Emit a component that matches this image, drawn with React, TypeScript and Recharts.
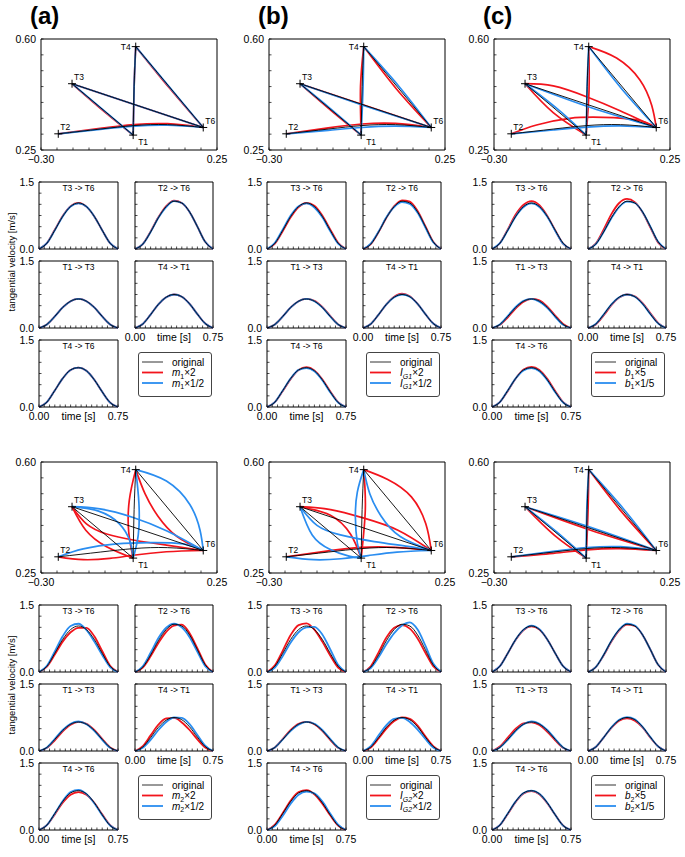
import { ComposedChart, LineChart, Line, Scatter, XAxis, YAxis, ReferenceArea } from "recharts";

type Pt = [number, number];

const FONT = '"Liberation Sans", Arial, Helvetica, sans-serif';
const RED = "#f2141c";
const BLUE = "#2a8df0";
const BLACK = "#000";

// ---- target positions (m) ----
const TARGET_NAMES = ["T1", "T2", "T3", "T4", "T6"];
const TARGET_X = [-0.012, -0.246, -0.203, -0.004, 0.207];
const TARGET_Y = [0.297, 0.301, 0.459, 0.576, 0.321];

// ---- axis ticks ----
const TRAJ_X_TICKS = [-0.3, -0.25, -0.2, -0.15, -0.1, -0.05, 0, 0.05, 0.1, 0.15, 0.2, 0.25];
const TRAJ_Y_TICKS = [0.25, 0.3, 0.35, 0.4, 0.45, 0.5, 0.55, 0.6];
const VEL_X_TICKS = [0, 0.05, 0.1, 0.15, 0.2, 0.25, 0.3, 0.35, 0.4, 0.45, 0.5, 0.55, 0.6, 0.65, 0.7, 0.75];
const VEL_Y_TICKS = [0, 0.25, 0.5, 0.75, 1, 1.25, 1.5];

// ---- hand paths, order: T3->T6, T2->T6, T1->T3, T4->T1, T4->T6 ----
const ORIG_T3T6: Pt[] = [[-0.203, 0.459], [0.207, 0.321]];
const ORIG_T2T6: Pt[] = [[-0.246, 0.301], [-0.115, 0.316], [-0.01, 0.327], [0.095, 0.33], [0.207, 0.321]];
const ORIG_T1T3: Pt[] = [[-0.012, 0.297], [-0.203, 0.459]];
const ORIG_T4T1: Pt[] = [[-0.004, 0.576], [-0.009, 0.45], [-0.012, 0.297]];
const ORIG_T4T6: Pt[] = [[-0.004, 0.576], [0.207, 0.321]];
const PATHS_ORIG = [ORIG_T3T6, ORIG_T2T6, ORIG_T1T3, ORIG_T4T1, ORIG_T4T6];

const PATHS_A_RED: Pt[][] = [
  ORIG_T3T6,
  [[-0.246, 0.301], [-0.115, 0.318], [-0.01, 0.33], [0.095, 0.333], [0.207, 0.321]],
  [[-0.012, 0.297], [-0.108, 0.376], [-0.203, 0.459]],
  ORIG_T4T1,
  [[-0.004, 0.576], [0.1, 0.447], [0.207, 0.321]],
];
const PATHS_A_BLUE: Pt[][] = [
  ORIG_T3T6,
  [[-0.246, 0.301], [-0.115, 0.315], [-0.01, 0.325], [0.095, 0.328], [0.207, 0.321]],
  ORIG_T1T3,
  ORIG_T4T1,
  ORIG_T4T6,
];

const PATHS_B_RED: Pt[][] = [
  ORIG_T3T6,
  [[-0.246, 0.301], [-0.115, 0.32], [-0.01, 0.332], [0.095, 0.334], [0.207, 0.321]],
  [[-0.012, 0.297], [-0.104, 0.373], [-0.203, 0.459]],
  [[-0.004, 0.576], [-0.014, 0.45], [-0.012, 0.297]],
  [[-0.004, 0.576], [0.097, 0.444], [0.207, 0.321]],
];
const PATHS_B_BLUE: Pt[][] = [
  [[-0.203, 0.459], [0.002, 0.388], [0.207, 0.321]],
  [[-0.246, 0.301], [-0.115, 0.312], [-0.01, 0.321], [0.095, 0.325], [0.207, 0.321]],
  [[-0.012, 0.297], [-0.11, 0.382], [-0.203, 0.459]],
  [[-0.004, 0.576], [-0.006, 0.45], [-0.012, 0.297]],
  [[-0.004, 0.576], [0.105, 0.452], [0.207, 0.321]],
];

const PATHS_C_RED: Pt[][] = [
  [[-0.203, 0.459], [-0.115, 0.452], [-0.011, 0.418], [0.094, 0.374], [0.207, 0.321]],
  [[-0.246, 0.301], [-0.167, 0.329], [-0.063, 0.35], [0.041, 0.353], [0.146, 0.345], [0.207, 0.321]],
  [[-0.012, 0.297], [-0.115, 0.368], [-0.203, 0.459]],
  [[-0.004, 0.576], [-0.003, 0.44], [-0.012, 0.297]],
  [[-0.004, 0.576], [0.083, 0.54], [0.156, 0.471], [0.193, 0.39], [0.207, 0.321]],
];
const PATHS_C_BLUE: Pt[][] = [
  [[-0.203, 0.459], [0.002, 0.384], [0.207, 0.321]],
  [[-0.246, 0.301], [-0.115, 0.313], [-0.01, 0.322], [0.095, 0.326], [0.207, 0.321]],
  [[-0.012, 0.297], [-0.1, 0.378], [-0.203, 0.459]],
  ORIG_T4T1,
  [[-0.004, 0.576], [0.098, 0.444], [0.207, 0.321]],
];

const PATHS_D_RED: Pt[][] = [
  [[-0.203, 0.459], [-0.158, 0.405], [-0.095, 0.373], [-0.012, 0.354], [0.092, 0.338], [0.207, 0.321]],
  [[-0.246, 0.301], [-0.168, 0.292], [-0.085, 0.296], [-0.012, 0.306], [0.092, 0.317], [0.207, 0.321]],
  [[-0.203, 0.459], [-0.16, 0.385], [-0.095, 0.333], [-0.012, 0.297]],
  [[-0.004, 0.576], [-0.024, 0.48], [-0.026, 0.38], [-0.012, 0.297]],
  [[-0.004, 0.576], [0.025, 0.5], [0.065, 0.43], [0.125, 0.365], [0.207, 0.321]],
];
const PATHS_D_BLUE: Pt[][] = [
  [[-0.203, 0.459], [-0.116, 0.452], [-0.012, 0.425], [0.092, 0.383], [0.207, 0.321]],
  [[-0.246, 0.301], [-0.168, 0.326], [-0.064, 0.342], [0.04, 0.346], [0.144, 0.342], [0.207, 0.321]],
  [[-0.203, 0.459], [-0.12, 0.445], [-0.055, 0.405], [-0.022, 0.35], [-0.012, 0.297]],
  [[-0.004, 0.576], [0.006, 0.47], [0.004, 0.37], [-0.012, 0.297]],
  [[-0.004, 0.576], [0.092, 0.54], [0.165, 0.466], [0.197, 0.385], [0.207, 0.321]],
];

const PATHS_E_RED: Pt[][] = [
  [[-0.203, 0.459], [-0.108, 0.45], [-0.003, 0.423], [0.103, 0.385], [0.207, 0.321]],
  [[-0.246, 0.301], [-0.115, 0.32], [-0.01, 0.331], [0.095, 0.331], [0.207, 0.321]],
  [[-0.203, 0.459], [-0.108, 0.432], [-0.045, 0.372], [-0.012, 0.297]],
  [[-0.004, 0.576], [0.001, 0.45], [-0.012, 0.297]],
  [[-0.004, 0.576], [0.071, 0.545], [0.145, 0.49], [0.19, 0.405], [0.207, 0.321]],
];
const PATHS_E_BLUE: Pt[][] = [
  [[-0.203, 0.459], [-0.15, 0.4], [-0.077, 0.37], [0.029, 0.349], [0.134, 0.334], [0.207, 0.321]],
  [[-0.246, 0.301], [-0.16, 0.292], [-0.075, 0.295], [0.01, 0.305], [0.1, 0.316], [0.207, 0.321]],
  [[-0.203, 0.459], [-0.165, 0.37], [-0.11, 0.325], [-0.05, 0.303], [-0.012, 0.297]],
  [[-0.004, 0.576], [-0.024, 0.505], [-0.03, 0.425], [-0.024, 0.345], [-0.012, 0.297]],
  [[-0.004, 0.576], [0.015, 0.5], [0.05, 0.43], [0.11, 0.365], [0.207, 0.321]],
];

const PATHS_F_RED: Pt[][] = [
  [[-0.203, 0.459], [0.002, 0.385], [0.207, 0.321]],
  [[-0.246, 0.301], [-0.115, 0.312], [-0.01, 0.323], [0.095, 0.327], [0.207, 0.321]],
  [[-0.203, 0.459], [-0.11, 0.368], [-0.012, 0.297]],
  [[-0.004, 0.576], [-0.006, 0.45], [-0.012, 0.297]],
  [[-0.004, 0.576], [0.097, 0.445], [0.207, 0.321]],
];
const PATHS_F_BLUE: Pt[][] = [
  [[-0.203, 0.459], [0.002, 0.394], [0.207, 0.321]],
  [[-0.246, 0.301], [-0.115, 0.318], [-0.01, 0.33], [0.095, 0.333], [0.207, 0.321]],
  [[-0.203, 0.459], [-0.105, 0.38], [-0.012, 0.297]],
  [[-0.004, 0.576], [-0.01, 0.45], [-0.012, 0.297]],
  [[-0.004, 0.576], [0.105, 0.452], [0.207, 0.321]],
];

// ---- tangential velocity (m/s), sampled every 0.075 s ----
const TIME = [0, 0.075, 0.15, 0.225, 0.3, 0.375, 0.45, 0.525, 0.6, 0.675, 0.75];

const O_T3T6 = [0, 0.13, 0.42, 0.73, 0.95, 1.03, 0.95, 0.73, 0.42, 0.13, 0];
const O_T2T6 = [0, 0.11, 0.38, 0.7, 0.95, 1.07, 1.03, 0.83, 0.5, 0.16, 0];
const O_T1T3 = [0, 0.08, 0.26, 0.46, 0.6, 0.65, 0.6, 0.46, 0.26, 0.08, 0];
const O_T4T1 = [0, 0.09, 0.3, 0.53, 0.69, 0.75, 0.7, 0.54, 0.31, 0.1, 0];
const O_T4T6 = [0, 0.11, 0.37, 0.64, 0.83, 0.88, 0.81, 0.61, 0.34, 0.1, 0];
const VEL_ORIG = [O_T3T6, O_T2T6, O_T1T3, O_T4T1, O_T4T6];

const VEL_A_RED = [
  [0, 0.13, 0.43, 0.74, 0.96, 1.03, 0.95, 0.73, 0.42, 0.13, 0],
  [0, 0.11, 0.39, 0.71, 0.96, 1.08, 1.03, 0.83, 0.5, 0.16, 0],
  O_T1T3,
  O_T4T1,
  O_T4T6,
];
const VEL_A_BLUE = [
  [0, 0.13, 0.42, 0.73, 0.95, 1.02, 0.95, 0.73, 0.42, 0.13, 0],
  [0, 0.11, 0.38, 0.7, 0.94, 1.07, 1.03, 0.83, 0.5, 0.16, 0],
  O_T1T3,
  O_T4T1,
  O_T4T6,
];

const VEL_B_RED = [
  [0, 0.12, 0.4, 0.71, 0.94, 1.03, 0.97, 0.75, 0.44, 0.14, 0],
  [0, 0.11, 0.38, 0.7, 0.96, 1.09, 1.06, 0.85, 0.51, 0.16, 0],
  [0, 0.08, 0.26, 0.46, 0.6, 0.65, 0.61, 0.47, 0.27, 0.08, 0],
  [0, 0.09, 0.3, 0.53, 0.7, 0.77, 0.71, 0.54, 0.31, 0.1, 0],
  [0, 0.11, 0.36, 0.63, 0.83, 0.89, 0.82, 0.62, 0.35, 0.11, 0],
];
const VEL_B_BLUE = [
  [0, 0.14, 0.44, 0.75, 0.96, 1.02, 0.93, 0.71, 0.4, 0.12, 0],
  [0, 0.12, 0.39, 0.71, 0.94, 1.05, 1.01, 0.81, 0.48, 0.15, 0],
  O_T1T3,
  O_T4T1,
  [0, 0.11, 0.37, 0.64, 0.83, 0.87, 0.8, 0.6, 0.33, 0.1, 0],
];

const VEL_C_RED = [
  [0, 0.13, 0.44, 0.77, 0.99, 1.07, 0.98, 0.74, 0.42, 0.12, 0],
  [0, 0.12, 0.43, 0.78, 1.03, 1.12, 1.05, 0.82, 0.48, 0.14, 0],
  [0, 0.07, 0.24, 0.44, 0.59, 0.65, 0.62, 0.48, 0.28, 0.09, 0],
  [0, 0.08, 0.28, 0.51, 0.68, 0.75, 0.71, 0.56, 0.33, 0.11, 0],
  [0, 0.11, 0.36, 0.64, 0.84, 0.9, 0.83, 0.63, 0.36, 0.11, 0],
];
const VEL_C_BLUE = [
  [0, 0.13, 0.42, 0.73, 0.94, 1.02, 0.94, 0.72, 0.41, 0.12, 0],
  [0, 0.11, 0.38, 0.69, 0.94, 1.06, 1.03, 0.83, 0.5, 0.16, 0],
  [0, 0.08, 0.27, 0.47, 0.61, 0.65, 0.59, 0.45, 0.25, 0.07, 0],
  O_T4T1,
  [0, 0.11, 0.37, 0.64, 0.82, 0.87, 0.8, 0.6, 0.33, 0.1, 0],
];

const VEL_D_RED = [
  [0, 0.12, 0.39, 0.68, 0.89, 0.99, 0.99, 0.8, 0.47, 0.14, 0],
  [0, 0.1, 0.35, 0.65, 0.9, 1.04, 1.06, 0.87, 0.53, 0.17, 0],
  [0, 0.07, 0.24, 0.44, 0.59, 0.65, 0.61, 0.47, 0.27, 0.08, 0],
  [0, 0.11, 0.35, 0.59, 0.73, 0.74, 0.64, 0.47, 0.26, 0.08, 0],
  [0, 0.11, 0.35, 0.61, 0.79, 0.85, 0.79, 0.61, 0.35, 0.11, 0],
];
const VEL_D_BLUE = [
  [0, 0.14, 0.46, 0.8, 1.03, 1.08, 0.94, 0.68, 0.38, 0.11, 0],
  [0, 0.13, 0.43, 0.76, 0.99, 1.08, 1.0, 0.78, 0.45, 0.13, 0],
  [0, 0.08, 0.27, 0.47, 0.61, 0.66, 0.6, 0.45, 0.25, 0.07, 0],
  [0, 0.07, 0.25, 0.47, 0.65, 0.75, 0.74, 0.6, 0.36, 0.12, 0],
  [0, 0.11, 0.37, 0.65, 0.85, 0.9, 0.81, 0.6, 0.33, 0.1, 0],
];

const VEL_E_RED = [
  [0, 0.15, 0.48, 0.83, 1.05, 1.09, 0.95, 0.68, 0.37, 0.1, 0],
  [0, 0.13, 0.44, 0.77, 0.99, 1.05, 0.97, 0.75, 0.43, 0.13, 0],
  [0, 0.08, 0.27, 0.47, 0.61, 0.65, 0.6, 0.45, 0.25, 0.07, 0],
  [0, 0.08, 0.28, 0.5, 0.67, 0.75, 0.72, 0.57, 0.33, 0.11, 0],
  [0, 0.12, 0.38, 0.66, 0.85, 0.89, 0.8, 0.59, 0.33, 0.1, 0],
];
const VEL_E_BLUE = [
  [0, 0.1, 0.36, 0.66, 0.89, 1.0, 1.01, 0.84, 0.51, 0.16, 0],
  [0, 0.09, 0.33, 0.62, 0.87, 1.04, 1.11, 0.95, 0.59, 0.19, 0],
  [0, 0.08, 0.26, 0.45, 0.59, 0.65, 0.61, 0.47, 0.27, 0.08, 0],
  [0, 0.11, 0.35, 0.58, 0.72, 0.74, 0.65, 0.48, 0.27, 0.08, 0],
  [0, 0.09, 0.32, 0.59, 0.79, 0.86, 0.82, 0.64, 0.37, 0.12, 0],
];

const VEL_F_RED = [
  [0, 0.13, 0.42, 0.72, 0.94, 1.02, 0.95, 0.73, 0.42, 0.13, 0],
  [0, 0.11, 0.37, 0.68, 0.93, 1.06, 1.03, 0.83, 0.5, 0.16, 0],
  [0, 0.1, 0.3, 0.5, 0.62, 0.64, 0.58, 0.43, 0.24, 0.07, 0],
  [0, 0.09, 0.3, 0.52, 0.68, 0.73, 0.68, 0.53, 0.3, 0.1, 0],
  [0, 0.11, 0.36, 0.63, 0.82, 0.87, 0.8, 0.6, 0.34, 0.1, 0],
];
const VEL_F_BLUE = [
  [0, 0.13, 0.42, 0.73, 0.95, 1.04, 0.96, 0.73, 0.42, 0.13, 0],
  [0, 0.11, 0.38, 0.7, 0.95, 1.08, 1.04, 0.83, 0.5, 0.16, 0],
  [0, 0.08, 0.25, 0.45, 0.6, 0.66, 0.61, 0.47, 0.27, 0.08, 0],
  [0, 0.09, 0.3, 0.53, 0.7, 0.76, 0.71, 0.54, 0.31, 0.1, 0],
  O_T4T6,
];

const VEL_TITLES = ["T3 -> T6", "T2 -> T6", "T1 -> T3", "T4 -> T1", "T4 -> T6"];

const PANEL_TAGS = ["(a)", "(b)", "(c)"];
const LEGEND_PARAMS = [
  { sym: "m", sub: "1", subItalic: false, up: "×2", down: "×1/2" },
  { sym: "I", sub: "G1", subItalic: true, up: "×2", down: "×1/2" },
  { sym: "b", sub: "1", subItalic: false, up: "×5", down: "×1/5" },
  { sym: "m", sub: "2", subItalic: false, up: "×2", down: "×1/2" },
  { sym: "I", sub: "G2", subItalic: true, up: "×2", down: "×1/2" },
  { sym: "b", sub: "2", subItalic: false, up: "×5", down: "×1/5" },
];

const PANELS = [
  { red: PATHS_A_RED, blue: PATHS_A_BLUE, vRed: VEL_A_RED, vBlue: VEL_A_BLUE },
  { red: PATHS_B_RED, blue: PATHS_B_BLUE, vRed: VEL_B_RED, vBlue: VEL_B_BLUE },
  { red: PATHS_C_RED, blue: PATHS_C_BLUE, vRed: VEL_C_RED, vBlue: VEL_C_BLUE },
  { red: PATHS_D_RED, blue: PATHS_D_BLUE, vRed: VEL_D_RED, vBlue: VEL_D_BLUE },
  { red: PATHS_E_RED, blue: PATHS_E_BLUE, vRed: VEL_E_RED, vBlue: VEL_E_BLUE },
  { red: PATHS_F_RED, blue: PATHS_F_BLUE, vRed: VEL_F_RED, vBlue: VEL_F_BLUE },
];

// layout
const COL_X = [0, 228, 453];
const HALF_Y = [0, 423];
const VEL_ROW_Y = [182, 261, 340];
const VEL_H = 67;
const LABEL_OFFSET: Record<string, [number, number, string]> = {
  T1: [5, 10, "start"],
  T2: [2, -4, "start"],
  T3: [2, -4, "start"],
  T4: [-5, 3, "end"],
  T6: [2, -3, "start"],
};

const near = (a: number, b: number) => Math.abs(a - b) < 1e-9;
const fmt = (v: number, d: number) => v.toFixed(d).replace("-", "\u2212");
const toXY = (pts: Pt[]) => pts.map(([x, y]) => ({ x, y }));

function TickX(props: any) {
  const { x, y, payload, labels, digits } = props;
  const show = labels.some((l: number) => near(l, payload.value));
  return (
    <g>
      <line x1={x} x2={x} y1={y} y2={y - 2.5} stroke="#000" strokeWidth={0.7} />
      {show && (
        <text x={x} y={y + 13} textAnchor="middle" fontSize={10.5} fontFamily={FONT} fill="#000">
          {fmt(payload.value, digits)}
        </text>
      )}
    </g>
  );
}

function TickY(props: any) {
  const { x, y, payload, labels, digits } = props;
  const show = labels.some((l: number) => near(l, payload.value));
  return (
    <g>
      <line x1={x} x2={x + 2.5} y1={y} y2={y} stroke="#000" strokeWidth={0.7} />
      {show && (
        <text x={x - 5} y={y} dy="0.36em" textAnchor="end" fontSize={10.5} fontFamily={FONT} fill="#000">
          {fmt(payload.value, digits)}
        </text>
      )}
    </g>
  );
}

function TargetMark(props: any) {
  const { cx, cy, payload } = props;
  const [dx, dy, anchor] = LABEL_OFFSET[payload.name];
  return (
    <g>
      <line x1={cx - 4} x2={cx + 4} y1={cy} y2={cy} stroke="#000" strokeWidth={1} />
      <line x1={cx} x2={cx} y1={cy - 4} y2={cy + 4} stroke="#000" strokeWidth={1} />
      <text x={cx + dx} y={cy + dy} textAnchor={anchor as any} fontSize={8.5} fontFamily={FONT} fill="#000">
        {payload.name}
      </text>
    </g>
  );
}

function TrajPlot({ left, top, red, blue }: { left: number; top: number; red: Pt[][]; blue: Pt[][] }) {
  const W = 176, H = 111, ML = 40, MR = 16, MT = 9, MB = 20;
  const targets = TARGET_NAMES.map((name, i) => ({ name, x: TARGET_X[i], y: TARGET_Y[i] }));
  const lineProps = { dataKey: "y", type: "natural" as const, dot: false, activeDot: false, isAnimationActive: false };
  return (
    <div style={{ position: "absolute", left: left - ML, top: top - MT }}>
      <ComposedChart width={W + ML + MR} height={H + MT + MB} margin={{ top: MT, right: MR, left: 0, bottom: 0 }}>
        <XAxis
          type="number"
          dataKey="x"
          domain={[-0.3, 0.25]}
          ticks={TRAJ_X_TICKS}
          interval={0}
          height={MB}
          tickSize={0}
          tickMargin={0}
          axisLine={false}
          allowDataOverflow
          tick={(p: any) => <TickX {...p} labels={[-0.3, 0.25]} digits={2} />}
        />
        <YAxis
          type="number"
          dataKey="y"
          domain={[0.25, 0.6]}
          ticks={TRAJ_Y_TICKS}
          interval={0}
          width={ML}
          tickSize={0}
          tickMargin={0}
          axisLine={false}
          allowDataOverflow
          tick={(p: any) => <TickY {...p} labels={[0.25, 0.6]} digits={2} />}
        />
        <ReferenceArea x1={-0.3} x2={0.25} y1={0.25} y2={0.6} fill="none" stroke="#000" strokeWidth={1} />
        {red.map((pts, i) => (
          <Line key={`r${i}`} {...lineProps} data={toXY(pts)} stroke={RED} strokeWidth={1.7} />
        ))}
        {blue.map((pts, i) => (
          <Line key={`b${i}`} {...lineProps} data={toXY(pts)} stroke={BLUE} strokeWidth={1.7} />
        ))}
        {PATHS_ORIG.map((pts, i) => (
          <Line key={`o${i}`} {...lineProps} data={toXY(pts)} stroke={BLACK} strokeWidth={0.9} />
        ))}
        <Scatter data={targets} dataKey="y" shape={TargetMark} isAnimationActive={false} />
      </ComposedChart>
    </div>
  );
}

function VelPlot(props: {
  left: number;
  top: number;
  width: number;
  title: string;
  orig: number[];
  red: number[];
  blue: number[];
  yLabels: boolean;
  xLabels: boolean;
}) {
  const { left, top, width, title, orig, red, blue, yLabels, xLabels } = props;
  const ML = 30, MR = 14, MT = 8, MB = 18;
  const rows = TIME.map((t, i) => ({ t, o: orig[i], r: red[i], b: blue[i] }));
  const lineProps = { type: "monotone" as const, dot: false, activeDot: false, isAnimationActive: false };
  return (
    <div style={{ position: "absolute", left: left - ML, top: top - MT }}>
      <LineChart width={width + ML + MR} height={VEL_H + MT + MB} data={rows} margin={{ top: MT, right: MR, left: 0, bottom: 0 }}>
        <XAxis
          type="number"
          dataKey="t"
          domain={[0, 0.75]}
          ticks={VEL_X_TICKS}
          interval={0}
          height={MB}
          tickSize={0}
          tickMargin={0}
          axisLine={false}
          tick={(p: any) => <TickX {...p} labels={xLabels ? [0, 0.75] : []} digits={2} />}
          label={xLabels ? { value: "time [s]", position: "insideBottom", offset: 5, fontSize: 10.5, fill: "#000", fontFamily: FONT } : undefined}
        />
        <YAxis
          type="number"
          domain={[0, 1.5]}
          ticks={VEL_Y_TICKS}
          interval={0}
          width={ML}
          tickSize={0}
          tickMargin={0}
          axisLine={false}
          tick={(p: any) => <TickY {...p} labels={yLabels ? [0, 1.5] : []} digits={1} />}
        />
        <ReferenceArea
          x1={0}
          x2={0.75}
          y1={0}
          y2={1.5}
          fill="none"
          stroke="#000"
          strokeWidth={1}
          label={{ value: title, position: "insideTop", offset: 3, fontSize: 8.5, fill: "#000", fontFamily: FONT }}
        />
        <Line {...lineProps} dataKey="r" stroke={RED} strokeWidth={1.8} />
        <Line {...lineProps} dataKey="b" stroke={BLUE} strokeWidth={1.8} />
        <Line {...lineProps} dataKey="o" stroke={BLACK} strokeWidth={0.9} />
      </LineChart>
    </div>
  );
}

function LegendBox({ left, top, param }: { left: number; top: number; param: (typeof LEGEND_PARAMS)[number] }) {
  const sym = (suffix: string) => (
    <>
      <tspan fontStyle="italic">{param.sym}</tspan>
      <tspan fontSize={7} dy={2.5} fontStyle={param.subItalic ? "italic" : "normal"}>
        {param.sub}
      </tspan>
      <tspan dy={-2.5}>{suffix}</tspan>
    </>
  );
  const entries = [
    { color: "#333", w: 1, label: <>original</> },
    { color: RED, w: 1.8, label: sym(param.up) },
    { color: BLUE, w: 1.8, label: sym(param.down) },
  ];
  return (
    <div
      style={{
        position: "absolute",
        left,
        top,
        width: 74,
        height: 45,
        border: "1px solid #444",
        borderRadius: 3,
        boxSizing: "border-box",
        background: "#fff",
      }}
    >
      <svg width={72} height={43} style={{ display: "block" }}>
        {entries.map((e, i) => (
          <g key={i}>
            <line x1={3} x2={24} y1={9 + i * 10.5} y2={9 + i * 10.5} stroke={e.color} strokeWidth={e.w} />
            <text x={33} y={9 + i * 10.5} dy="0.36em" fontSize={10} fontFamily={FONT} fill="#000">
              {e.label}
            </text>
          </g>
        ))}
      </svg>
    </div>
  );
}

export default function App() {
  const blocks: JSX.Element[] = [];
  PANELS.forEach((panel, p) => {
    const cx = COL_X[p % 3];
    const hy = HALF_Y[Math.floor(p / 3)];
    blocks.push(<TrajPlot key={`t${p}`} left={cx + 41} top={hy + 39} red={panel.red} blue={panel.blue} />);
    VEL_TITLES.forEach((title, k) => {
      const right = k % 2 === 1;
      blocks.push(
        <VelPlot
          key={`v${p}-${k}`}
          left={cx + (right ? 135 : 39)}
          top={hy + VEL_ROW_Y[Math.floor(k / 2)]}
          width={right ? 78 : 79}
          title={title}
          orig={VEL_ORIG[k]}
          red={panel.vRed[k]}
          blue={panel.vBlue[k]}
          yLabels={!right}
          xLabels={k >= 3}
        />
      );
    });
    blocks.push(<LegendBox key={`l${p}`} left={cx + 138} top={hy + 352} param={LEGEND_PARAMS[p]} />);
  });

  return (
    <div
      style={{
        position: "absolute",
        left: 0,
        top: 0,
        width: 685,
        height: 857,
        background: "#fff",
        overflow: "hidden",
        fontFamily: FONT,
      }}
    >
      <svg width={685} height={857} style={{ position: "absolute", left: 0, top: 0 }}>
        {PANEL_TAGS.map((tag, i) => (
          <text key={tag} x={COL_X[i] + 30} y={24} fontSize={24} fontWeight="bold" fontFamily={FONT} fill="#000">
            {tag}
          </text>
        ))}
        {HALF_Y.map((hy) => (
          <text
            key={hy}
            x={12}
            y={hy + 262}
            transform={`rotate(-90 12 ${hy + 262})`}
            textAnchor="middle"
            dy="0.36em"
            fontSize={9.5}
            fontFamily={FONT}
            fill="#000"
          >
            tangential velocity [m/s]
          </text>
        ))}
      </svg>
      {blocks}
    </div>
  );
}
